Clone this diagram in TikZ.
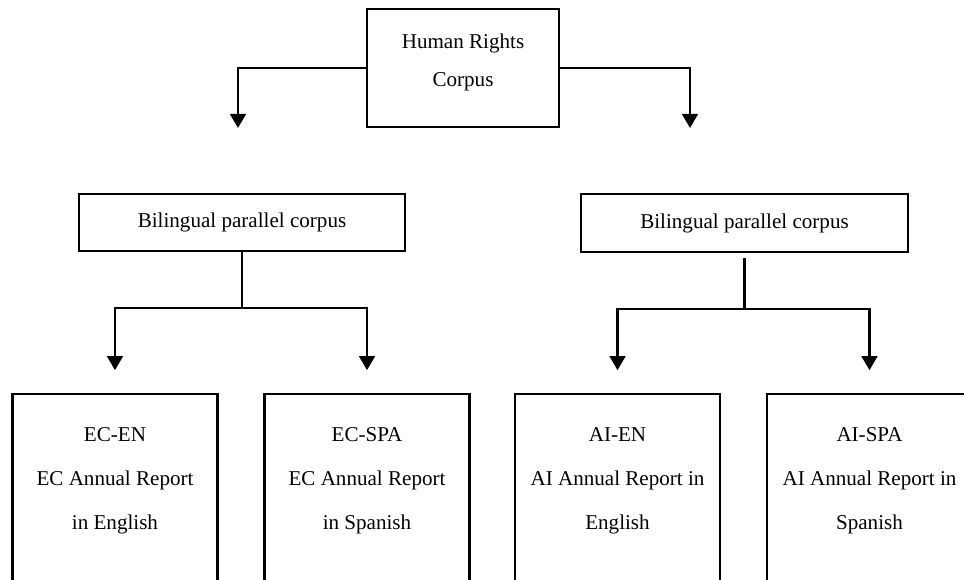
\documentclass[tikz,border=0pt]{standalone}
\usepackage{fontspec}
\setmainfont{Liberation Serif}
\usetikzlibrary{arrows.meta,positioning}
\begin{document}
\begin{tikzpicture}[x=0.02cm,y=-0.02cm,
    box/.style={draw,line width=1.3pt,align=center,inner sep=0pt,
      font=\fontsize{12}{22}\selectfont},
    leaf/.style={box,anchor=north,minimum width=4.1cm,minimum height=4.4cm},
    link/.style={line width=1.3pt},
    arr/.style={link,-{Triangle[width=9pt,length=8pt]}}]
  \useasboundingbox (0,0) rectangle (964,580);
  \clip (0,0) rectangle (964,580);
  \node (corpus) [box,minimum width=3.84cm,minimum height=2.36cm,
    text depth=9pt] at (463,68) {Human Rights\\Corpus};
  \node (bilec) [box,minimum width=6.52cm,minimum height=1.14cm] at (242,222.5)
    {Bilingual parallel corpus};
  \node (bilai) [box,minimum width=6.54cm,minimum height=1.16cm] at (744.5,223)
    {Bilingual parallel corpus};
  % the four reports run off the bottom of the page
  \foreach \name/\cx/\txt in {ecen/115/{EC-EN\\EC Annual Report\\in English},
      ecspa/367/{EC-SPA\\EC Annual Report\\in Spanish},
      aien/617.5/{AI-EN\\AI Annual Report in\\English},
      aispa/869.5/{AI-SPA\\AI Annual Report in\\Spanish}} {%
    \node (\name) [leaf,label={[anchor=north,yshift=-19.5pt,align=center,
      inner sep=0pt,font=\fontsize{12}{25}\selectfont]north:\txt}] at (\cx,393) {};
  }
  \coordinate (hrec) at (238,128);
  \coordinate (hrai) at (690,128);
  \draw[arr] (corpus.west) -| (hrec);
  \draw[arr] (corpus.east) -| (hrai);
  \draw[link] (bilec.south) -- ++(0,56) coordinate (jec);
  \draw[link,shorten <=3pt] (bilai.south) -- ++(0,56) coordinate (jai);
  \draw[arr,shorten >=13pt] (jec) -| (ecen.north);
  \draw[arr,shorten >=13pt] (jec) -| (ecspa.north);
  \draw[arr,shorten >=13pt] (jai) -| (aien.north);
  \draw[arr,shorten >=13pt] (jai) -| (aispa.north);
\end{tikzpicture}
\end{document}
